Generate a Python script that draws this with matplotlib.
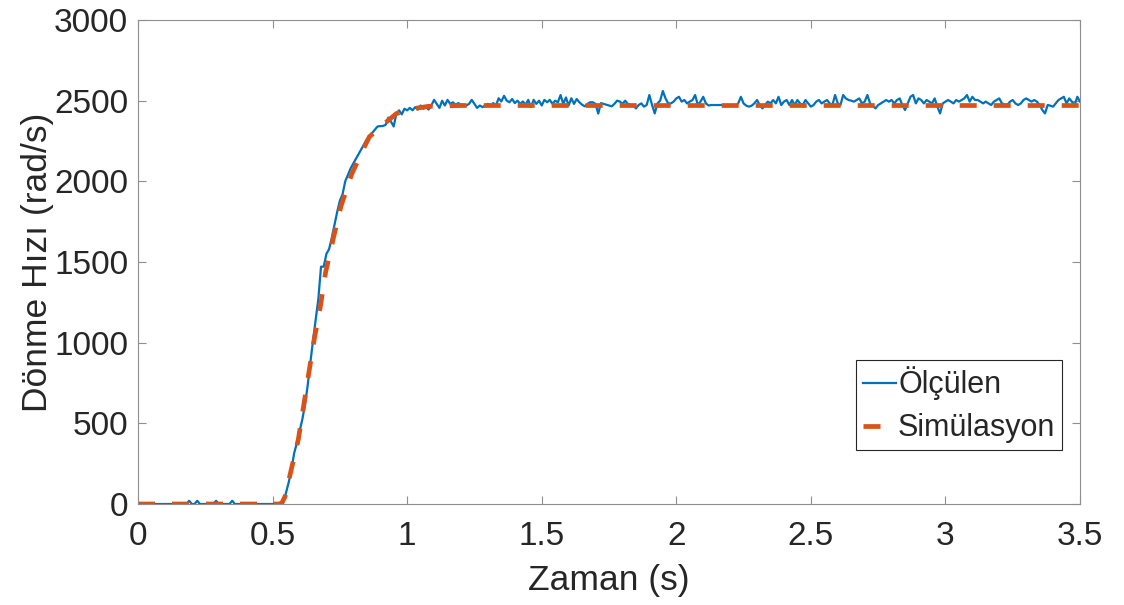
import numpy as np
import matplotlib
matplotlib.use("Agg")
import matplotlib.pyplot as plt

plt.rcParams['font.family'] = ['Liberation Sans', 'DejaVu Sans']

# measured speed, one sample every 0.01 s from 0 to 3.5 s
SAMPLE_STEP = 0.01
MEASURED = [
	0, 0, 0, 0, 0, 0, 0, 0, 0, 0,
	0, 0, 0, 0, 0, 0, 0, 0, 0, 20,
	0, 0, 20, 0, 0, 0, 0, 0, 0, 20,
	0, 0, 0, 0, 0, 20, 0, 0, 0, 0,
	0, 0, 0, 0, 0, 0, 0, 0, 0, 0,
	0, 0, 0, 0, 10, 70, 135, 210, 314, 376,
	450, 520, 610, 730, 870, 1010, 1140, 1270, 1471, 1471,
	1550, 1580, 1650, 1730, 1810, 1880, 1920, 2000, 2040, 2080,
	2111, 2140, 2170, 2200, 2230, 2260, 2280, 2300, 2320, 2340,
	2342, 2343, 2350, 2395, 2370, 2340, 2420, 2440, 2415, 2450,
	2440, 2455, 2440, 2460, 2445, 2470, 2450, 2460, 2445, 2470,
	2505, 2480, 2455, 2500, 2470, 2505, 2480, 2490, 2475, 2485,
	2475, 2475, 2470, 2480, 2505, 2480, 2455, 2470, 2460, 2470,
	2480, 2470, 2485, 2470, 2515, 2495, 2530, 2500, 2490, 2510,
	2485, 2500, 2480, 2495, 2475, 2505, 2460, 2505, 2480, 2500,
	2470, 2505, 2490, 2505, 2480, 2500, 2490, 2535, 2480, 2520,
	2470, 2515, 2480, 2510, 2490, 2475, 2465, 2480, 2490, 2490,
	2480, 2420, 2485, 2480, 2475, 2470, 2465, 2480, 2500, 2495,
	2480, 2500, 2480, 2475, 2470, 2452, 2473, 2483, 2463, 2473,
	2535, 2473, 2421, 2483, 2500, 2560, 2514, 2483, 2483, 2494,
	2514, 2524, 2494, 2504, 2483, 2494, 2504, 2535, 2473, 2494,
	2524, 2483, 2470, 2473, 2473, 2473, 2473, 2473, 2473, 2473,
	2473, 2473, 2469, 2483, 2524, 2483, 2469, 2463, 2469, 2483,
	2504, 2473, 2452, 2473, 2494, 2483, 2504, 2483, 2524, 2473,
	2494, 2504, 2473, 2504, 2473, 2504, 2483, 2473, 2504, 2483,
	2463, 2473, 2494, 2504, 2483, 2494, 2504, 2483, 2473, 2535,
	2483, 2473, 2535, 2514, 2504, 2500, 2494, 2504, 2514, 2483,
	2494, 2535, 2483, 2469, 2452, 2473, 2483, 2494, 2504, 2494,
	2504, 2483, 2504, 2514, 2473, 2442, 2483, 2524, 2535, 2483,
	2514, 2504, 2483, 2504, 2494, 2483, 2514, 2463, 2421, 2483,
	2494, 2504, 2494, 2483, 2504, 2494, 2504, 2514, 2535, 2494,
	2524, 2504, 2504, 2494, 2483, 2494, 2483, 2473, 2494, 2504,
	2514, 2483, 2477, 2473, 2494, 2504, 2483, 2473, 2483, 2504,
	2514, 2504, 2494, 2504, 2494, 2473, 2442, 2421, 2473, 2469,
	2463, 2483, 2504, 2514, 2524, 2483, 2514, 2494, 2473, 2524,
	2494,
]

# simulated speed
SIM_T = [0, 0.525, 0.535, 0.546, 0.567, 0.596, 0.615, 0.635, 0.655, 0.678, 0.697,
	0.725, 0.754, 0.794, 0.837, 0.86, 0.91, 0.96, 1.02, 1.08, 1.2, 3.5]
SIM_V = [0, 0, 8, 45, 196, 403, 603, 816, 1023, 1229, 1436,
	1642, 1845, 2045, 2200, 2277, 2350, 2420, 2450, 2465, 2470, 2470]

X_TICKS = [0, 0.5, 1, 1.5, 2, 2.5, 3, 3.5]
X_TICK_LABELS = ["0", "0.5", "1", "1.5", "2", "2.5", "3", "3.5"]
Y_TICKS = [0, 500, 1000, 1500, 2000, 2500, 3000]

TEXT_COLOR = "#262626"
AXIS_COLOR = "#8f8f8f"

meas_t = np.arange(len(MEASURED)) * SAMPLE_STEP

fig = plt.figure(figsize=(11.24, 6.05), dpi=100)
ax = fig.add_axes([138 / 1124, 1 - 504 / 605, 942 / 1124, 484 / 605])

ax.plot(meas_t, MEASURED, color="#0072BD", lw=1.6, label="Ölçülen")
ax.plot(SIM_T, SIM_V, color="#D95319", lw=3.4, linestyle=(0, (3.6, 3.6)),
	label="Simülasyon")

ax.set_xlim(0, 3.5)
ax.set_ylim(0, 3000)
ax.set_xticks(X_TICKS)
ax.set_xticklabels(X_TICK_LABELS)
ax.set_yticks(Y_TICKS)

ax.tick_params(direction="in", length=6, width=0.8, colors=AXIS_COLOR,
	labelcolor=TEXT_COLOR, labelsize=24, top=True, right=True)
ax.tick_params(axis="x", pad=12)
ax.tick_params(axis="y", pad=7)
for side in ax.spines.values():
	side.set_color(AXIS_COLOR)
	side.set_linewidth(0.8)

ax.set_xlabel("Zaman (s)", fontsize=25.5, color=TEXT_COLOR, labelpad=9)
ax.set_ylabel("Dönme Hızı (rad/s)", fontsize=25.5, color=TEXT_COLOR, labelpad=0)

leg = ax.legend(loc="lower right", bbox_to_anchor=(0.981, 0.1116),
	borderaxespad=0, fontsize=22, handlelength=1.08, handletextpad=0.08,
	borderpad=0.22, labelspacing=0.42, fancybox=False, framealpha=1)
leg.get_frame().set_edgecolor(TEXT_COLOR)
leg.get_frame().set_linewidth(0.8)
for txt in leg.get_texts():
	txt.set_color(TEXT_COLOR)

fig.savefig("out.png", dpi=100)
